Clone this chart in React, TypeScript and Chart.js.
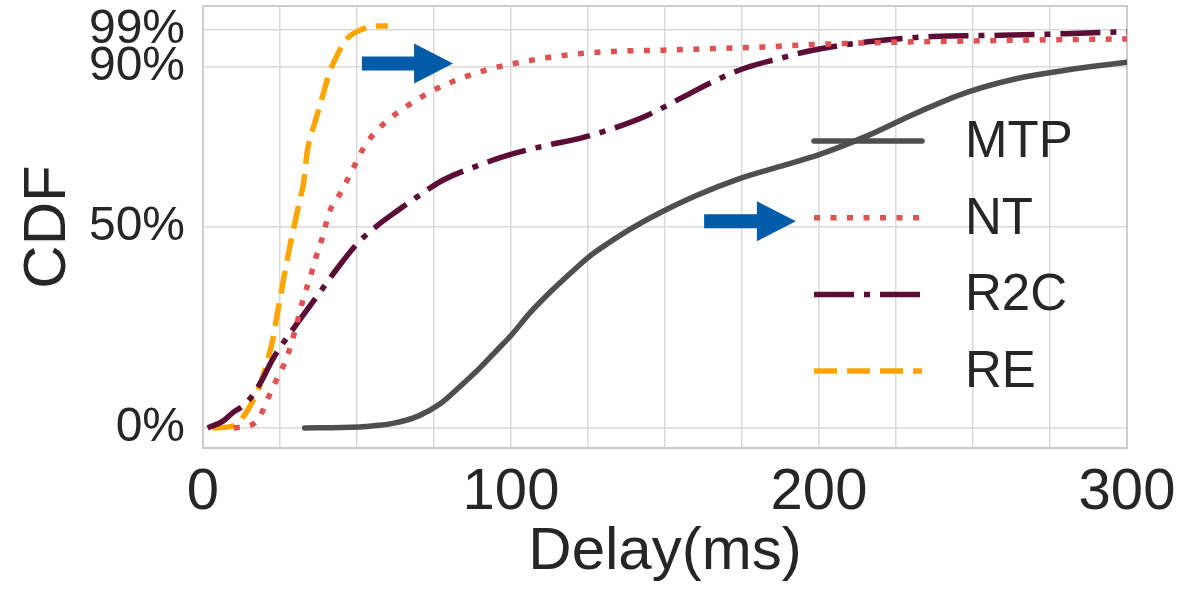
import { useEffect, useRef } from "react";
import Chart from "chart.js/auto";

const seriesNames = ["MTP", "NT", "R2C", "RE"];
const seriesColors = ["#4f4f4f", "#e05252", "#5c0d35", "#ffa500"];
const seriesDashes: number[][] = [[], [6, 10.5], [40, 10, 6, 10], [23, 10]];

const mtpX = [33, 45, 55, 62, 70, 77, 83, 90, 95, 100, 106, 113, 120, 126, 132, 139, 149, 160, 174, 187, 200, 216, 232, 248, 264, 280, 300];
const mtpY = [0, 0.001, 0.005, 0.012, 0.03, 0.06, 0.1, 0.15, 0.19, 0.23, 0.285, 0.34, 0.39, 0.43, 0.462, 0.496, 0.538, 0.578, 0.62, 0.65, 0.68, 0.728, 0.785, 0.835, 0.869, 0.89, 0.91];

const ntX = [10, 15, 18, 21, 24.5, 27, 30, 32.5, 35, 36.5, 39, 41, 43.5, 45, 48.7, 52, 55, 60.7, 66, 74, 82, 93, 101, 117, 133, 149, 166, 182, 198, 225, 250, 275, 300];
const ntY = [0, 0.005, 0.022, 0.072, 0.13, 0.17, 0.246, 0.32, 0.38, 0.42, 0.48, 0.537, 0.57, 0.59, 0.645, 0.695, 0.728, 0.77, 0.8, 0.837, 0.865, 0.893, 0.907, 0.927, 0.937, 0.94, 0.944, 0.948, 0.954, 0.96, 0.963, 0.966, 0.968];

const r2cX = [1.5, 6.5, 10, 13, 16, 19, 22.7, 27, 31.5, 38, 43.5, 50, 56.5, 63, 69.5, 78, 90, 101, 111.5, 122, 133, 144, 155, 165.6, 176.5, 187, 198, 216, 237, 259, 280, 300];
const r2cY = [0, 0.017, 0.04, 0.055, 0.08, 0.117, 0.172, 0.222, 0.27, 0.338, 0.396, 0.458, 0.503, 0.54, 0.575, 0.617, 0.655, 0.683, 0.703, 0.72, 0.745, 0.777, 0.82, 0.862, 0.897, 0.919, 0.94, 0.961, 0.974, 0.977, 0.981, 0.986];

const reX = [3, 10, 13, 15.3, 18, 20.8, 22.7, 24.4, 26, 27.6, 29.2, 31.5, 32.5, 34, 36.4, 38.6, 41.2, 43.5, 46.8, 51, 56.5, 60];
const reY = [0, 0.005, 0.027, 0.055, 0.097, 0.164, 0.222, 0.296, 0.363, 0.429, 0.488, 0.57, 0.603, 0.695, 0.762, 0.82, 0.887, 0.927, 0.969, 0.99, 1.0, 1.0];

const xTickLabels = [0, 100, 200, 300];
const yTickValues = [0, 0.5, 0.9, 0.99];
const yTickLabels = ["0%", "50%", "90%", "99%"];

// arrows: [tailX, tipX, y] in data units
const arrowTailX = [51.6, 162.7];
const arrowTipX = [81.2, 192.5];
const arrowY = [0.907, 0.514];

const FONT = "'Liberation Sans', Arial, sans-serif";
const TEXT = "#262626";

function pts(xs: number[], ys: number[]) {
  return xs.map((x, i) => ({ x, y: ys[i] }));
}

export default function App() {
  const ref = useRef<HTMLCanvasElement | null>(null);
  useEffect(() => {
    const canvas = ref.current;
    if (!canvas) return;
    const allX = [mtpX, ntX, r2cX, reX];
    const allY = [mtpY, ntY, r2cY, reY];

    const framePlugin = {
      id: "frame",
      beforeDatasetsDraw(chart: any) {
        const { ctx, chartArea: a } = chart;
        ctx.save();
        ctx.strokeStyle = "#cccccc";
        ctx.lineWidth = 2;
        ctx.strokeRect(a.left, a.top, a.right - a.left, a.bottom - a.top);
        ctx.restore();
      },
      afterDatasetsDraw(chart: any) {
        const { ctx, chartArea: a, scales } = chart;
        ctx.save();
        // legend
        const x0 = a.right - 313;
        const x1 = a.right - 205;
        const rowTop = a.top + 135;
        const rowGap = 76.7;
        seriesNames.forEach((name, i) => {
          const y = rowTop + i * rowGap;
          ctx.beginPath();
          ctx.strokeStyle = seriesColors[i];
          ctx.lineWidth = 5.5;
          ctx.lineCap = i === 0 ? "round" : "butt";
          ctx.setLineDash(seriesDashes[i]);
          ctx.moveTo(x0, y);
          ctx.lineTo(x1, y);
          ctx.stroke();
          ctx.setLineDash([]);
          ctx.fillStyle = TEXT;
          ctx.font = `51px ${FONT}`;
          ctx.textBaseline = "middle";
          ctx.textAlign = "left";
          ctx.fillText(name, a.right - 162, y + 2);
        });
        // arrows
        ctx.fillStyle = "#005ca9";
        arrowTailX.forEach((tx, i) => {
          const xs = scales.x.getPixelForValue(tx);
          const xt = scales.x.getPixelForValue(arrowTipX[i]);
          const y = scales.y.getPixelForValue(arrowY[i]);
          const headLen = 39;
          const sh = 7;
          const hh = 20;
          ctx.beginPath();
          ctx.moveTo(xs, y - sh);
          ctx.lineTo(xt - headLen, y - sh);
          ctx.lineTo(xt - headLen, y - hh);
          ctx.lineTo(xt, y);
          ctx.lineTo(xt - headLen, y + hh);
          ctx.lineTo(xt - headLen, y + sh);
          ctx.lineTo(xs, y + sh);
          ctx.closePath();
          ctx.fill();
        });
        ctx.restore();
      },
    };

    const chart = new Chart(canvas, {
      type: "line",
      data: {
        datasets: seriesNames.map((name, i) => ({
          label: name,
          data: pts(allX[i], allY[i]),
          borderColor: seriesColors[i],
          backgroundColor: seriesColors[i],
          borderWidth: 5.5,
          borderDash: seriesDashes[i],
          borderCapStyle: i === 0 ? "round" : "butt",
          pointRadius: 0,
          fill: false,
          cubicInterpolationMode: "monotone",
        })),
      },
      options: {
        animation: false,
        responsive: false,
        maintainAspectRatio: false,
        layout: { padding: { top: 6, right: 77, left: 0, bottom: 0 } },
        plugins: { legend: { display: false }, tooltip: { enabled: false } },
        scales: {
          x: {
            type: "linear",
            min: 0,
            max: 300,
            afterFit: (s: any) => {
              s.height = 142;
              s.paddingLeft = 0;
              s.paddingRight = 0;
            },
            ticks: {
              stepSize: 25,
              color: TEXT,
              font: { family: FONT, size: 58 },
              padding: 10,
              maxRotation: 0,
              autoSkip: false,
              callback: (v: any) => (xTickLabels.includes(Number(v)) ? String(v) : ""),
            },
            grid: { color: "#dadada", lineWidth: 1.5, drawTicks: false },
            border: { display: false },
            title: {
              display: true,
              text: "Delay(ms)",
              color: TEXT,
              font: { family: FONT, size: 60 },
              padding: { top: 0, bottom: 2 },
            },
          },
          y: {
            type: "linear",
            min: -0.05,
            max: 1.05,
            afterFit: (s: any) => {
              s.width = 203;
              s.paddingTop = 0;
              s.paddingBottom = 0;
            },
            afterBuildTicks: (s: any) => {
              s.ticks = yTickValues.map((v) => ({ value: v }));
            },
            ticks: {
              color: TEXT,
              font: { family: FONT, size: 48 },
              padding: 18,
              autoSkip: false,
              callback: (v: any) => {
                const i = yTickValues.indexOf(Number(v));
                return i >= 0 ? yTickLabels[i] : "";
              },
            },
            grid: { color: "#dadada", lineWidth: 1.5, drawTicks: false },
            border: { display: false },
            title: {
              display: true,
              text: "CDF",
              color: TEXT,
              font: { family: FONT, size: 60 },
              padding: { top: 12, bottom: 0 },
            },
          },
        },
      },
      plugins: [framePlugin],
    } as any);
    return () => chart.destroy();
  }, []);

  return (
    <div style={{ position: "fixed", left: 0, top: 0, width: 1204, height: 590, background: "#fff" }}>
      <canvas ref={ref} width={1204} height={590} style={{ width: 1204, height: 590, display: "block" }} />
    </div>
  );
}
